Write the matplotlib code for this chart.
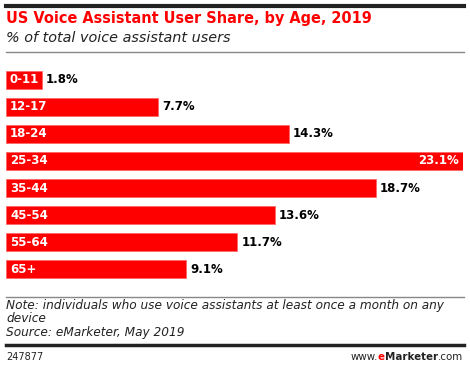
import matplotlib
matplotlib.use('Agg')
import matplotlib.pyplot as plt
from matplotlib.lines import Line2D

ages = ['0-11', '12-17', '18-24', '25-34', '35-44', '45-54', '55-64', '65+']
share = [1.8, 7.7, 14.3, 23.1, 18.7, 13.6, 11.7, 9.1]
title = 'US Voice Assistant User Share, by Age, 2019'
subtitle = '% of total voice assistant users'
note = 'Note: individuals who use voice assistants at least once a month on any\ndevice\nSource: eMarketer, May 2019'

W, H = 470, 368
fig = plt.figure(figsize=(W / 100, H / 100), dpi=100)
plt.rcParams['font.family'] = 'DejaVu Sans'

def fx(px):
    return px / W

def fy(py):
    return 1 - py / H

red = '#ff0000'

# rules
fig.add_artist(Line2D([fx(6), fx(464)], [fy(6), fy(6)], color='#222222', lw=3))
fig.add_artist(Line2D([fx(6), fx(464)], [fy(52), fy(52)], color='#888888', lw=1))
fig.add_artist(Line2D([fx(6), fx(464)], [fy(297), fy(297)], color='#888888', lw=1))
fig.add_artist(Line2D([fx(6), fx(464)], [fy(345), fy(345)], color='#222222', lw=2.5))

fig.text(fx(6), fy(18), title, color=red, fontsize=10.45, fontweight='bold', va='center', ha='left')
fig.text(fx(6), fy(38), subtitle, color='#222222', fontsize=10.4, style='italic', va='center', ha='left')

ax = fig.add_axes([fx(6), fy(283), fx(463) - fx(6), (283 - 66) / H])
y = list(range(len(ages)))
ax.barh(y, share, height=0.66, color=red, edgecolor='#ff6666', linewidth=0.6)
ax.set_xlim(0, max(share))
ax.set_ylim(len(ages) - 0.5, -0.5)
ax.axis('off')

for i, (a, v) in enumerate(zip(ages, share)):
    ax.text(0.2, i, a, color='white', fontsize=8.5, fontweight='bold', va='center', ha='left')
    if v == max(share):
        ax.text(v - 0.2, i, f'{v}%', color='white', fontsize=8.5, fontweight='bold', va='center', ha='right')
    else:
        ax.text(v + 0.2, i, f'{v}%', color='black', fontsize=8.5, fontweight='bold', va='center', ha='left')

fig.text(fx(6), fy(299), note, color='#222222', fontsize=8.7, style='italic', va='top', ha='left', linespacing=1.05)
fig.text(fx(6), fy(357), '247877', color='#222222', fontsize=7, va='center', ha='left')
fig.text(fx(463), fy(357), 'www.', color='#222222', fontsize=7.4, va='center', ha='right')

# right-aligned brand text built piece by piece
t1 = fig.text(fx(463), fy(357), '.com', color='#222222', fontsize=7.4, va='center', ha='right')
fig.canvas.draw()
r = fig.canvas.get_renderer()
bb = t1.get_window_extent(r)
t2 = fig.text(bb.x0 / W, fy(357), 'Marketer', color='#222222', fontsize=7.4, fontweight='bold', va='center', ha='right')
bb = t2.get_window_extent(r)
t3 = fig.text(bb.x0 / W, fy(357), 'e', color=red, fontsize=7.4, fontweight='bold', va='center', ha='right')
bb = t3.get_window_extent(r)
fig.texts[-4].set_x(bb.x0 / W)

fig.savefig('out.png', dpi=100)
